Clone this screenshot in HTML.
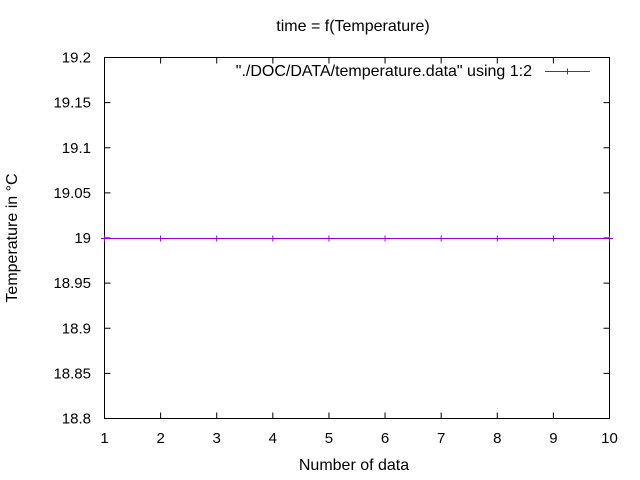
<!DOCTYPE html>
<html><head><meta charset="utf-8"><style>body{margin:0;background:#fff}svg{display:block;font-family:"Liberation Sans",sans-serif}</style></head>
<body>
<svg id="c" width="640" height="480"></svg>
<script>
const xVals=[1,2,3,4,5,6,7,8,9,10];
const yVals=[19,19,19,19,19,19,19,19,19,19];
const xTicks=[1,2,3,4,5,6,7,8,9,10];
const yTicks=["18.8","18.85","18.9","18.95","19","19.05","19.1","19.15","19.2"];
const L=104.5,R=609.5,T=57.5,B=418.5;
const sx=v=>L+(v-1)/9*(R-L);
const sy=v=>B-(v-18.8)/0.4*(B-T);
const svg=document.getElementById('c');const NS='http://www.w3.org/2000/svg';
function mk(t,a,txt){const e=document.createElementNS(NS,t);for(const k in a)e.setAttribute(k,a[k]);if(txt!=null)e.textContent=txt;svg.appendChild(e);return e;}
let e;
e=mk('rect',{x:L,y:T,width:R-L,height:B-T,fill:'none',stroke:'#000','stroke-width':1});


xTicks.forEach(v=>{const x=sx(v);
 e=mk('path',{d:`M${x} ${B}v-6M${x} ${T}v6`,stroke:'#000'});
 
 
 e=mk('text',{x:x,y:443,'text-anchor':'middle','font-size':15},v);
 
 });
yTicks.forEach(s=>{const y=sy(parseFloat(s));
 e=mk('path',{d:`M${L} ${y}h6M${R} ${y}h-6`,stroke:'#000'});
 
 
 e=mk('text',{x:91,y:y+5,'text-anchor':'end','font-size':15},s);
 
 });
e=mk('text',{x:353,y:31,'text-anchor':'middle','font-size':16},'time = f(Temperature)');


e=mk('text',{x:354,y:470,'text-anchor':'middle','font-size':16},'Number of data');


e=mk('text',{x:0,y:0,'text-anchor':'middle','font-size':16,transform:'translate(17,238) rotate(-90)'},'Temperature in °C');


e=mk('polyline',{points:xVals.map((v,i)=>sx(v)+','+(sy(yVals[i])+0.5)).join(' '),fill:'none',stroke:'#9400d3','stroke-width':1});


xVals.forEach((v,i)=>{const x=sx(v),y=sy(yVals[i])+0.5;
 e=mk('path',{d:`M${x-3.5} ${y}h7M${x} ${y-3}v6`,stroke:'#9400d3'});
 
 });
e=mk('text',{x:532,y:76,'text-anchor':'end','font-size':16},'"./DOC/DATA/temperature.data" using 1:2');


e=mk('path',{d:'M545 71.5h45M567.5 68.5v6',stroke:'#9400d3'});


</script>
</body></html>
